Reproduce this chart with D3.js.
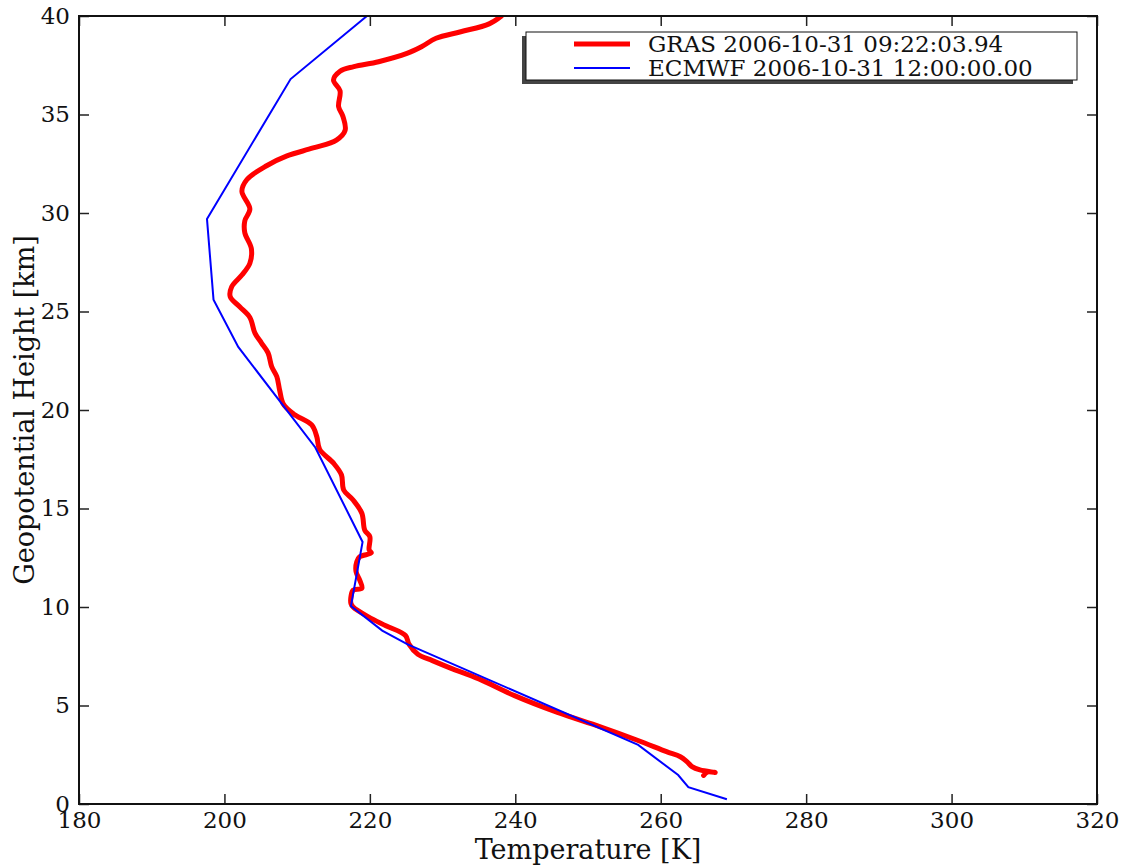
<!DOCTYPE html>
<html>
<head>
	<meta charset="utf-8">
	<title>GRAS vs ECMWF temperature profile</title>
	<script src="https://cdn.jsdelivr.net/npm/d3@7/dist/d3.min.js"></script>
	<style>
		body { margin: 0; background: white; }
		svg text { font-family: "DejaVu Serif", serif; fill: #111; }
	</style>
</head>
<body>
	<svg id="chart" width="1121" height="865"></svg>

	<script>
		// series: [temperature K, geopotential height km]
		var grasLabel = 'GRAS 2006-10-31 09:22:03.94';
		var ecmwfLabel = 'ECMWF 2006-10-31 12:00:00.00';

		var gras = [
			[265.9, 1.45], [266.4, 1.62], [267.5, 1.60], [265.4, 1.73], [264.3, 1.90],
			[263.6, 2.15], [262.7, 2.40], [260.8, 2.66], [256.7, 3.25], [251.7, 3.92],
			[245.8, 4.65], [239.9, 5.50], [235.0, 6.35], [231.1, 6.90], [228.6, 7.28],
			[226.6, 7.60], [225.4, 8.10], [224.9, 8.55], [222.2, 9.05], [219.8, 9.50],
			[217.7, 10.0], [217.4, 10.18], [217.4, 10.52], [217.7, 10.86], [218.9, 10.95],
			[218.6, 11.37], [218.1, 11.8], [218.2, 12.3], [218.6, 12.55], [220.2, 12.75],
			[219.9, 12.9], [220.0, 13.57], [219.3, 13.9], [218.9, 14.76], [217.7, 15.43],
			[216.4, 15.94], [216.1, 16.7], [215.0, 17.3], [213.1, 18.0], [212.7, 18.65],
			[212.0, 19.24], [209.5, 19.8], [208.1, 20.3], [207.6, 21.0], [207.2, 21.7],
			[206.5, 22.2], [206.0, 22.9], [205.1, 23.4], [204.2, 23.9], [203.5, 24.7],
			[202.1, 25.24], [200.8, 25.75], [201.0, 26.26], [202.4, 26.85], [203.5, 27.45],
			[203.7, 28.2], [202.8, 29.0], [202.8, 29.6], [203.5, 30.2], [202.4, 31.1],
			[203.1, 31.7], [205.8, 32.4], [208.6, 32.9], [212.2, 33.3], [215.4, 33.7],
			[216.6, 34.2], [216.3, 34.9], [215.7, 35.4], [215.9, 36.2], [215.0, 36.75],
			[215.9, 37.2], [217.8, 37.43], [221.2, 37.68], [225.1, 38.1], [227.1, 38.44],
			[229.1, 38.87], [232.5, 39.2], [236.4, 39.6], [238.1, 40.0]
		];

		var ecmwf = [
			[269.1, 0.24], [263.8, 0.85], [262.4, 1.47], [256.9, 3.0], [225.2, 8.1],
			[221.7, 8.8], [217.4, 10.05], [219.0, 13.3], [212.5, 18.1], [201.9, 23.2],
			[198.5, 25.6], [197.6, 29.7], [209.1, 36.8], [219.6, 40.0]
		];

		var xTicks = [180, 200, 220, 240, 260, 280, 300, 320];
		var yTicks = [0, 5, 10, 15, 20, 25, 30, 35, 40];

		var pL = 79, pR = 1097, pT = 16, pB = 804;

		var svg = d3.select('#chart');

		var x = d3.scaleLinear().domain([180, 320]).range([pL, pR]);
		var y = d3.scaleLinear().domain([0, 40]).range([pB, pT]);

		svg.append('clipPath')
			.attr('id', 'plot')
			.append('rect')
			.attr('x', pL)
			.attr('y', pT)
			.attr('width', pR - pL)
			.attr('height', pB - pT);

		var line = d3.line()
			.x(d => x(d[0]))
			.y(d => y(d[1]));

		var lines = svg.append('g').attr('clip-path', 'url(#plot)');

		lines.append('path')
			.datum(gras)
			.attr('d', line.curve(d3.curveCatmullRom))
			.attr('fill', 'none')
			.attr('stroke', '#ff0000')
			.attr('stroke-width', 5)
			.attr('stroke-linejoin', 'round')
			.attr('stroke-linecap', 'round');

		lines.append('path')
			.datum(ecmwf)
			.attr('d', line.curve(d3.curveLinear))
			.attr('fill', 'none')
			.attr('stroke', '#0000ff')
			.attr('stroke-width', 2);

		// axes, ticks pointing inward on all four sides
		var tick = 10;
		var styleAxis = g => {
			g.select('.domain').remove();
			g.selectAll('.tick line').attr('stroke', '#222').attr('stroke-width', 1.5);
			g.selectAll('.tick text')
				.style('font-size', '23px')
				.style('font-family', '"DejaVu Serif", serif')
				.attr('fill', '#111');
		};

		svg.append('g')
			.attr('transform', 'translate(0,' + pB + ')')
			.call(d3.axisBottom(x).tickValues(xTicks).tickSize(-tick).tickPadding(8).tickFormat(d3.format('d')))
			.call(styleAxis);

		svg.append('g')
			.attr('transform', 'translate(0,' + pT + ')')
			.call(d3.axisTop(x).tickValues(xTicks).tickSize(-tick).tickFormat(''))
			.call(styleAxis);

		svg.append('g')
			.attr('transform', 'translate(' + pL + ',0)')
			.call(d3.axisLeft(y).tickValues(yTicks).tickSize(-tick).tickPadding(9).tickFormat(d3.format('d')))
			.call(styleAxis);

		svg.append('g')
			.attr('transform', 'translate(' + pR + ',0)')
			.call(d3.axisRight(y).tickValues(yTicks).tickSize(-tick).tickFormat(''))
			.call(styleAxis);

		svg.append('rect')
			.attr('x', pL)
			.attr('y', pT)
			.attr('width', pR - pL)
			.attr('height', pB - pT)
			.attr('fill', 'none')
			.attr('stroke', '#111')
			.attr('stroke-width', 2);

		// axis labels
		svg.append('text')
			.attr('x', (pL + pR) / 2)
			.attr('y', 859)
			.attr('text-anchor', 'middle')
			.style('font-size', '27px')
			.text('Temperature [K]');

		svg.append('text')
			.attr('transform', 'translate(34,' + (pT + pB) / 2 + ') rotate(-90)')
			.attr('text-anchor', 'middle')
			.style('font-size', '27px')
			.text('Geopotential Height [km]');

		// legend with shadow
		var legend = svg.append('g');
		legend.append('rect')
			.attr('x', 522).attr('y', 36)
			.attr('width', 551).attr('height', 48)
			.attr('fill', '#444');
		legend.append('rect')
			.attr('x', 526).attr('y', 32)
			.attr('width', 551).attr('height', 48)
			.attr('fill', 'white')
			.attr('stroke', '#111')
			.attr('stroke-width', 1);

		var items = [
			{label: grasLabel, color: '#ff0000', width: 5, y: 44},
			{label: ecmwfLabel, color: '#0000ff', width: 2, y: 68}
		];

		items.forEach(it => {
			legend.append('line')
				.attr('x1', 574).attr('x2', 630)
				.attr('y1', it.y).attr('y2', it.y)
				.attr('stroke', it.color)
				.attr('stroke-width', it.width);
			legend.append('text')
				.attr('x', 648)
				.attr('y', it.y)
				.attr('dy', '0.36em')
				.style('font-size', '23px')
				.text(it.label);
		});
	</script>
</body>
</html>
